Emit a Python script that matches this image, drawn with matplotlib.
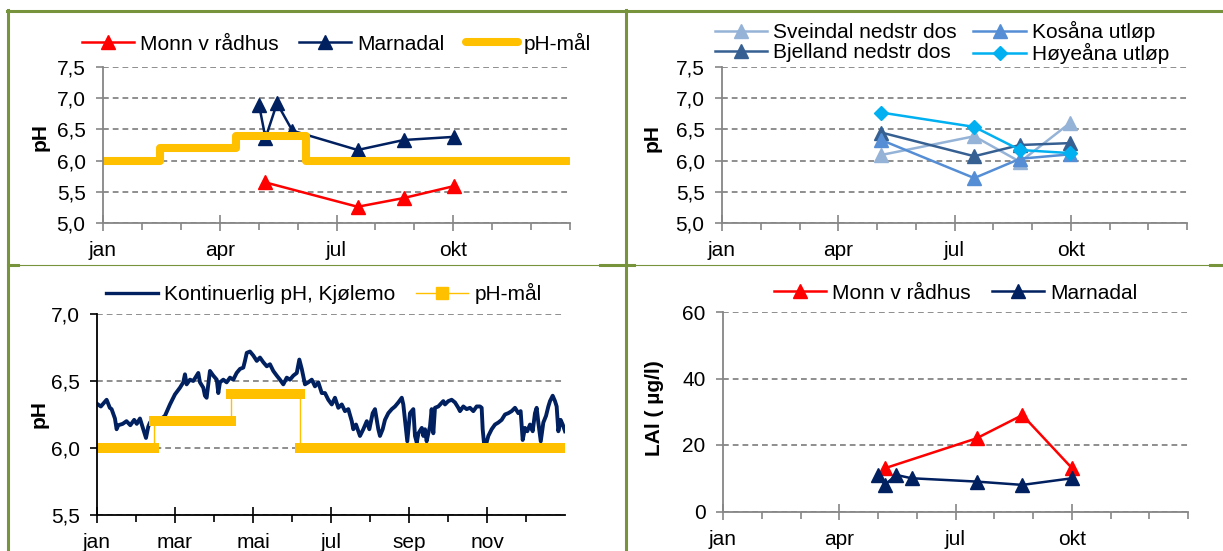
import matplotlib
matplotlib.use("Agg")
import matplotlib.pyplot as plt
from matplotlib.lines import Line2D
from matplotlib.ticker import FixedLocator, FuncFormatter

plt.rcParams["font.family"] = ["Liberation Sans", "DejaVu Sans"]

# ---------- Data (day of year) ----------
# pH-mål, trinnvis
goal_days = [0, 44.6, 104.2, 158.6, 364]
goal_ph = [6.0, 6.2, 6.4, 6.0, 6.0]

# pH ved Monn v rådhus og Marnadal
monn_days = [127, 199, 235, 274]
monn_ph = [5.65, 5.26, 5.40, 5.59]
marn_days = [122, 127, 136, 148, 199, 235, 274]
marn_ph = [6.89, 6.36, 6.92, 6.48, 6.17, 6.33, 6.38]

# LAl ved de samme stasjonene
monn_lai = [13, 22, 29, 13]
marn_lai = [11, 8, 11, 10, 9, 8, 10]

# Sideelver
side_days = [125, 198, 234, 273]
sveindal_ph = [6.09, 6.39, 5.98, 6.60]
kosana_ph = [6.33, 5.72, 6.03, 6.10]
bjelland_ph = [6.45, 6.07, 6.25, 6.28]
hoyeana_ph = [6.77, 6.54, 6.17, 6.12]

# Kontinuerlig pH, Kjølemo
kj_days = [0, 3, 7.5, 10, 11.4, 14, 15.3, 16.6, 20, 23, 26, 29, 31, 33.5, 36.1,
           38.2, 40, 41.3, 45, 49, 53, 56.9, 60.8, 64.7, 67.3, 68.6, 69.9, 72.5,
           75.1, 79, 80.3, 82.9, 84.2, 85.5, 88.1, 90.7, 93.4, 94.6, 95.9, 98.5,
           101.1, 103.7, 106.3, 108.9, 111.5, 114.1, 115.4, 116.8, 119.3, 121.9,
           124.6, 127.1, 129.7, 132.4, 134.9, 137.5, 140.2, 142.7, 145.3, 148.0,
           150.5, 153.1, 155.8, 157.8, 159.7, 162.2, 164.8, 167.5, 170.0, 172.6,
           175.3, 177.8, 180.4, 183.1, 185.6, 188.2, 190.9, 193.4, 196.0, 198.7,
           199.9, 202.0, 203.8, 205.1, 207.7, 210.4, 212.4, 215.0, 216.8, 219.4,
           220.7, 222.8, 224.6, 227.2, 229.9, 232.4, 235.0, 237.7, 238.9, 241.0,
           242.0, 244.1, 246.7, 248.0, 249.4, 250.7, 253.3, 254.5, 255.8, 257.1,
           258.4, 259.7, 261.0, 262.3, 263.6, 266.2, 270.1, 271.4, 274.0, 276.6,
           279.2, 281.8, 283.1, 285.7, 288.3, 290.9, 293.5, 296.1, 298.7, 300.0,
           300.8, 301.8, 303.4, 305.2, 307.8, 310.4, 313.0, 315.6, 318.2, 320.8,
           323.4, 326.0, 328.6, 330.4, 332.0, 333.8, 335.6, 337.7, 339.8, 341.6,
           342.9, 344.2, 346.1, 348.1, 350.2, 352.0, 353.3, 355.4, 357.2, 358.5,
           359.8, 361.6, 363.2, 365.0]
kj_ph = [6.33, 6.31, 6.36, 6.30, 6.29, 6.22, 6.14, 6.17, 6.18, 6.20, 6.17, 6.21,
         6.18, 6.22, 6.14, 6.075, 6.16, 6.19, 6.20, 6.21, 6.24, 6.325, 6.40, 6.45,
         6.49, 6.55, 6.475, 6.51, 6.50, 6.56, 6.49, 6.45, 6.39, 6.375, 6.575, 6.54,
         6.51, 6.41, 6.49, 6.51, 6.49, 6.525, 6.51, 6.56, 6.59, 6.60, 6.65, 6.71,
         6.72, 6.69, 6.65, 6.675, 6.64, 6.61, 6.625, 6.575, 6.54, 6.51, 6.475,
         6.525, 6.51, 6.54, 6.56, 6.66, 6.59, 6.475, 6.49, 6.51, 6.46, 6.49, 6.41,
         6.41, 6.36, 6.325, 6.375, 6.30, 6.325, 6.275, 6.29, 6.20, 6.14, 6.175,
         6.125, 6.09, 6.14, 6.20, 6.14, 6.26, 6.29, 6.14, 6.09, 6.14, 6.21, 6.26,
         6.29, 6.31, 6.34, 6.375, 6.325, 6.14, 6.05, 6.26, 6.29, 6.09, 6.04, 6.11,
         6.15, 6.09, 6.14, 6.05, 6.11, 6.16, 6.29, 6.11, 6.30, 6.31, 6.35, 6.325,
         6.35, 6.36, 6.34, 6.30, 6.275, 6.31, 6.29, 6.30, 6.275, 6.31, 6.31, 6.30,
         6.14, 6.04, 6.025, 6.09, 6.14, 6.175, 6.19, 6.21, 6.25, 6.26, 6.275, 6.30,
         6.26, 6.275, 6.06, 6.15, 6.125, 6.175, 6.125, 6.26, 6.30, 6.19, 6.05,
         6.19, 6.24, 6.31, 6.35, 6.39, 6.35, 6.31, 6.125, 6.21, 6.175, 6.125]

q_labels = ["jan", "apr", "jul", "okt"]
bim_labels = ["jan", "mar", "mai", "jul", "sep", "nov"]

# ---------- Farger ----------
RED = "#FF0000"
NAVY = "#002060"
GOLD = "#FFC000"
GRID = "#868686"
BORDER = "#77933C"
FS = 15

comma = FuncFormatter(lambda v, p: f"{v:.1f}".replace(".", ","))


def style(ax, spine_color, n_major):
    for s in ["top", "right"]:
        ax.spines[s].set_visible(False)
    for s in ["left", "bottom"]:
        ax.spines[s].set_color(spine_color)
        ax.spines[s].set_linewidth(1.3)
    ax.set_axisbelow(True)
    ax.yaxis.grid(True, linestyle=(0, (3.2, 2.2)), color=GRID, lw=1.3)
    ax.set_xlim(0, 365)
    step = 365 / n_major
    ax.xaxis.set_major_locator(FixedLocator([i * step for i in range(n_major)]))
    ax.xaxis.set_minor_locator(FixedLocator([i * 365 / 12 for i in range(13)]))
    ax.tick_params(axis="y", length=5, width=1.2, color=spine_color, labelsize=FS, pad=7.5)
    ax.tick_params(axis="x", which="major", direction="inout", length=11, width=1.2,
                   color=spine_color, labelsize=FS, pad=7.5)
    ax.tick_params(axis="x", which="minor", direction="out", length=5, width=1.2,
                   color=spine_color)


fig = plt.figure(figsize=(12.23, 5.51), dpi=100)
W, H = 1223, 551


def axes_px(x0, x1, ytop, ybot):
    return fig.add_axes([x0 / W, 1 - ybot / H, (x1 - x0) / W, (ybot - ytop) / H])


# ---------- Øverst til venstre: pH Monn / Marnadal ----------
ax1 = axes_px(103, 570, 67, 223)
style(ax1, GRID, 4)
ax1.plot(monn_days, monn_ph, color=RED, lw=1.8, marker="^", ms=9.5, label="Monn v rådhus")
ax1.plot(marn_days, marn_ph, color=NAVY, lw=1.8, marker="^", ms=9.5, label="Marnadal")
ax1.step(goal_days, goal_ph, where="post", color=GOLD, lw=5.8,
         solid_capstyle="round", solid_joinstyle="round", label="pH-mål")
ax1.set_ylim(5.0, 7.5)
ax1.set_yticks([5.0, 5.5, 6.0, 6.5, 7.0, 7.5])
ax1.yaxis.set_major_formatter(comma)
ax1.set_xticklabels(q_labels)
ax1.set_ylabel("pH", fontsize=FS, fontweight="bold")
ax1.yaxis.set_label_coords(-0.115, 0.55)
ax1.legend(loc="center", bbox_to_anchor=(0.5, 1.154), ncol=3, frameon=False,
           fontsize=FS, handlelength=2.5, handletextpad=0.3, columnspacing=1.0,
           borderaxespad=0, borderpad=0)

# ---------- Øverst til høyre: sideelver ----------
ax2 = axes_px(722, 1187, 67, 223)
style(ax2, GRID, 4)
ax2.plot(side_days, sveindal_ph, color="#95B3D7", lw=1.8, marker="^", ms=9.5,
         label="Sveindal nedstr dos")
ax2.plot(side_days, bjelland_ph, color="#376092", lw=1.8, marker="^", ms=9.5,
         label="Bjelland nedstr dos")
ax2.plot(side_days, kosana_ph, color="#558ED5", lw=1.8, marker="^", ms=9.5,
         label="Kosåna utløp")
ax2.plot(side_days, hoyeana_ph, color="#00B0F0", lw=1.8, marker="D", ms=7.5,
         label="Høyeåna utløp")
ax2.set_ylim(5.0, 7.5)
ax2.set_yticks([5.0, 5.5, 6.0, 6.5, 7.0, 7.5])
ax2.yaxis.set_major_formatter(comma)
ax2.set_xticklabels(q_labels)
ax2.set_ylabel("pH", fontsize=FS, fontweight="bold")
ax2.yaxis.set_label_coords(-0.13, 0.545)
ax2.legend(loc="center", bbox_to_anchor=(0.473, 1.157), ncol=2, frameon=False,
           fontsize=FS, handlelength=2.5, handletextpad=0.3, columnspacing=0.8,
           labelspacing=0.05, borderaxespad=0, borderpad=0)

# ---------- Nederst til venstre: kontinuerlig pH ----------
ax3 = axes_px(97, 565, 314, 515)
style(ax3, "black", 6)
ax3.xaxis.set_minor_locator(FixedLocator([(i + 0.5) * 365 / 6 for i in range(6)]))
ax3.plot(kj_days, kj_ph, color=NAVY, lw=2.8, label="Kontinuerlig pH, Kjølemo")
ax3.step(goal_days, goal_ph, where="post", color=GOLD, lw=1.0)
for i in range(len(goal_days) - 1):
    ax3.plot([goal_days[i], goal_days[i + 1]], [goal_ph[i], goal_ph[i]], color=GOLD,
             lw=7.2, solid_capstyle="projecting")
ax3.set_ylim(5.5, 7.0)
ax3.set_yticks([5.5, 6.0, 6.5, 7.0])
ax3.yaxis.set_major_formatter(comma)
ax3.set_xticklabels(bim_labels)
ax3.set_ylabel("pH", fontsize=FS, fontweight="bold")
ax3.yaxis.set_label_coords(-0.103, 0.5)
goal_handle = Line2D([], [], color=GOLD, lw=1.0, marker="s", ms=8, mec=GOLD)
kj_handle = Line2D([], [], color=NAVY, lw=2.4)
ax3.legend([kj_handle, goal_handle], ["Kontinuerlig pH, Kjølemo", "pH-mål"],
           loc="center", bbox_to_anchor=(0.485, 1.10), ncol=2, frameon=False,
           fontsize=FS, handlelength=2.5, handletextpad=0.3, columnspacing=1.0,
           borderaxespad=0, borderpad=0)

# ---------- Nederst til høyre: LAl ----------
ax4 = axes_px(723, 1188, 312, 511.5)
style(ax4, GRID, 4)
ax4.plot(monn_days, monn_lai, color=RED, lw=1.8, marker="^", ms=9.5, label="Monn v rådhus")
ax4.plot(marn_days, marn_lai, color=NAVY, lw=1.8, marker="^", ms=9.5, label="Marnadal")
ax4.set_ylim(0, 60)
ax4.set_yticks([0, 20, 40, 60])
ax4.set_xticklabels(q_labels)
ax4.set_ylabel("LAl ( µg/l)", fontsize=FS, fontweight="bold")
ax4.yaxis.set_label_coords(-0.127, 0.52)
ax4.legend(loc="center", bbox_to_anchor=(0.5, 1.095), ncol=2, frameon=False,
           fontsize=FS, handlelength=2.5, handletextpad=0.3, columnspacing=1.0,
           borderaxespad=0, borderpad=0)

# ---------- Tabellrammer ----------
def hline(y, x0, x1, lw):
    fig.add_artist(Line2D([x0 / W, x1 / W], [1 - y / H, 1 - y / H], color=BORDER, lw=lw))


def vline(x, y0, y1, lw):
    fig.add_artist(Line2D([x / W, x / W], [1 - y0 / H, 1 - y1 / H], color=BORDER, lw=lw))


hline(11, 7, W, 2.2)
vline(8, 10, H, 2.2)
vline(625.5, 10, H, 2.2)
hline(265, 8, W, 0.8)
hline(265, 600, 634, 2.2)
hline(265, 8, 18, 2.2)
hline(265, 1210, W, 2.2)

fig.savefig("out.png", dpi=100)
